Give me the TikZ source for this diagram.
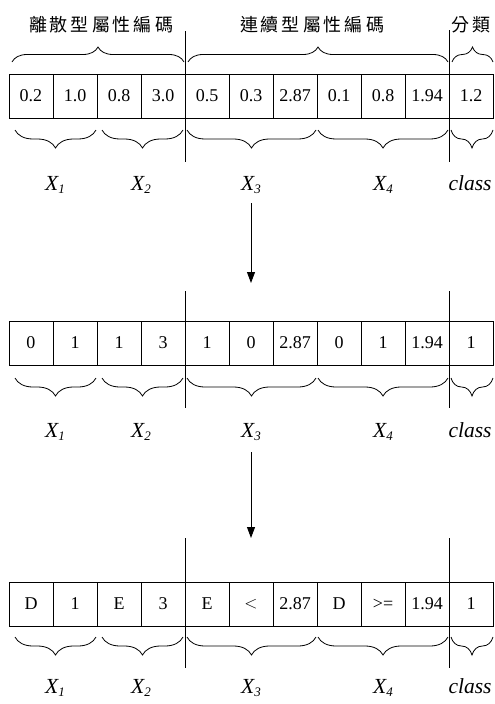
\documentclass[tikz,border=0pt]{standalone}
\usepackage{fontspec}
\setmainfont{Liberation Serif}
\newfontfamily\cjk{Noto Sans CJK TC}
\usetikzlibrary{decorations.pathreplacing,arrows.meta}
\newcommand\myidx[1]{\raisebox{-0.35ex}{\fontsize{13}{13}\selectfont\itshape #1}}
\tikzset{
  cell/.style={draw, line width=0.8pt, minimum width=44pt, minimum height=44pt, inner sep=0pt, outer sep=0pt, font=\fontsize{18}{18}\selectfont},
  divider/.style={line width=0.8pt},
  upbrace/.style={decorate, line width=0.8pt, decoration={brace, amplitude=15pt}},
  downbrace/.style={decorate, line width=0.8pt, decoration={brace, mirror, amplitude=18pt}},
  lab/.style={anchor=base, inner sep=0pt, font=\fontsize{21.5}{21.5}\selectfont\itshape},
  head/.style={inner sep=0pt, font=\cjk\fontsize{18}{18}\selectfont},
  flow/.style={line width=0.9pt, -{Triangle[length=11pt,width=8pt]}}
}
\begin{document}
\begin{tikzpicture}[x=1pt,y=-1pt]
\useasboundingbox (0,0) rectangle (495,704);
% headers
\node[head] (h1) at (101,25) {離\,散\,型\,屬\,性\,編\,碼};
\node[head] (h2) at (312,25) {連\,續\,型\,屬\,性\,編\,碼};
\node[head] (h3) at (471,25) {分\,類};
% top braces
\coordinate (tb1a) at (12,62); \coordinate (tb1b) at (184,62);
\coordinate (tb2a) at (188,62); \coordinate (tb2b) at (448,62);
\coordinate (tb3a) at (452,62); \coordinate (tb3b) at (493,62);
\draw[upbrace] (tb1a) -- (tb1b);
\draw[upbrace] (tb2a) -- (tb2b);
\draw[upbrace] (tb3a) -- (tb3b);
% rows
\foreach \r/\y/\ta/\tb/\tc/\td/\te/\tf/\tg/\th/\ti/\tj/\tk in {
  1/96/0.2/1.0/0.8/3.0/0.5/0.3/2.87/0.1/0.8/1.94/1.2,
  2/343/0/1/1/3/1/0/2.87/0/1/1.94/1,
  3/604/D/1/E/3/E/{$<$}/2.87/D/{>=}/1.94/1}{
  \node[cell] (c\r-1) at (31,\y) {\ta};
  \node[cell] (c\r-2) at (75,\y) {\tb};
  \node[cell] (c\r-3) at (119,\y) {\tc};
  \node[cell] (c\r-4) at (163,\y) {\td};
  \node[cell] (c\r-5) at (207,\y) {\te};
  \node[cell] (c\r-6) at (251,\y) {\tf};
  \node[cell] (c\r-7) at (295,\y) {\tg};
  \node[cell] (c\r-8) at (339,\y) {\th};
  \node[cell] (c\r-9) at (383,\y) {\ti};
  \node[cell] (c\r-10) at (427,\y) {\tj};
  \node[cell] (c\r-11) at (471,\y) {\tk};
}
% dividers
\coordinate (d1a) at (185,31); \coordinate (d1b) at (185,162);
\coordinate (d2a) at (449.3,30); \coordinate (d2b) at (449.3,162);
\coordinate (d3a) at (185,291); \coordinate (d3b) at (185,408);
\coordinate (d4a) at (449.3,291); \coordinate (d4b) at (449.3,408);
\coordinate (d5a) at (185,538); \coordinate (d5b) at (185,668);
\coordinate (d6a) at (449.3,538); \coordinate (d6b) at (449.3,668);
\foreach \i in {1,...,6}{\draw[divider] (d\i a) -- (d\i b);}
% bottom braces and labels
\foreach \r/\by/\ly in {1/130/190, 2/378/437, 3/637/693}{
  \coordinate (b\r-1a) at (15,\by);  \coordinate (b\r-1b) at (96,\by);
  \coordinate (b\r-2a) at (102,\by); \coordinate (b\r-2b) at (183,\by);
  \coordinate (b\r-3a) at (187,\by); \coordinate (b\r-3b) at (316,\by);
  \coordinate (b\r-4a) at (318,\by); \coordinate (b\r-4b) at (448,\by);
  \coordinate (b\r-5a) at (451,\by); \coordinate (b\r-5b) at (493,\by);
  \foreach \k in {1,...,5}{\draw[downbrace] (b\r-\k a) -- (b\r-\k b);}
  \node[lab] (x\r-1) at (55,\ly) {X\myidx{1}};
  \node[lab] (x\r-2) at (141,\ly) {X\myidx{2}};
  \node[lab] (x\r-3) at (251,\ly) {X\myidx{3}};
  \node[lab] (x\r-4) at (383,\ly) {X\myidx{4}};
  \node[lab] (x\r-5) at (470,\ly) {class};
}
% arrows
\coordinate (a1s) at (251,203); \coordinate (a1e) at (251,283);
\coordinate (a2s) at (251,452); \coordinate (a2e) at (251,538);
\draw[flow] (a1s) -- (a1e);
\draw[flow] (a2s) -- (a2e);
\end{tikzpicture}
\end{document}
